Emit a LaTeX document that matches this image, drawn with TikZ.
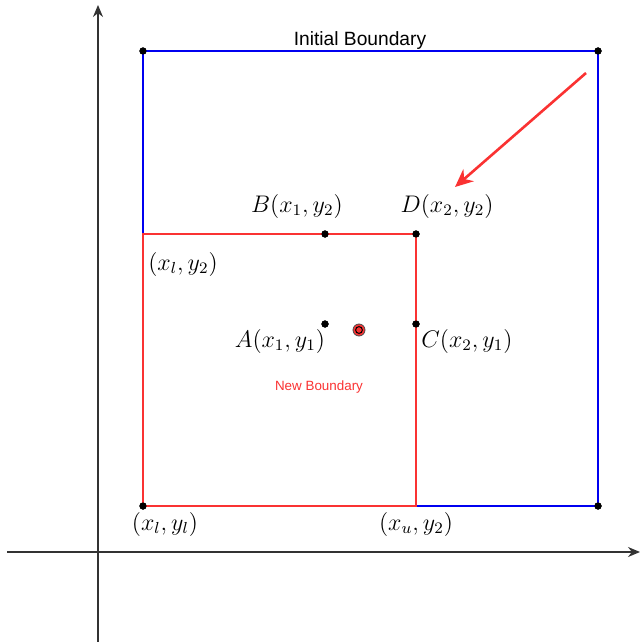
\documentclass[tikz,border=0pt]{standalone}
\usepackage{amsmath, amssymb}
\usepackage{fontspec}
\setsansfont{Liberation Sans}
\usetikzlibrary{arrows.meta}
\definecolor{boxblue}{RGB}{0,0,240}
\definecolor{boxred}{RGB}{250,50,50}
\newcommand{\gridpt}[2]{%
  \node[pt] (#1) at #2 {};%
}

\begin{document}
\begin{tikzpicture}[x=0.5pt,y=-0.5pt,
  pt/.style={circle,fill=black,inner sep=0pt,minimum size=3.6pt},
  lbl/.style={font=\large},
  axis/.style={black!80,line width=0.6pt,-{Stealth[length=6pt,width=5pt]}}]
  \useasboundingbox (0,0) rectangle (640,642);
  % axes
  \coordinate (xs) at (7,552); \coordinate (xe) at (640,552);
  \coordinate (ys) at (98,642); \coordinate (ye) at (98,5);
  \draw[axis] (xs)--(xe);
  \draw[axis] (ys)--(ye);
  % corners
  \gridpt{tl}{(143,51)} \gridpt{tr}{(598,51)}
  \gridpt{br}{(598,506)} \gridpt{bl}{(143,506)}
  \coordinate (ml) at (143,234);
  \gridpt{B}{(325,234)} \gridpt{D}{(416,234)}
  \gridpt{A}{(325,324)} \gridpt{C}{(416,324)}
  \coordinate (bm) at (416,506);
  % initial boundary
  \draw[boxblue,line width=1.3pt] (ml)--(tl.center)--(tr.center)--(br.center)--(bm);
  % new boundary
  \draw[boxred,line width=1.3pt] (bl.center)--(ml)--(D.center)--(bm)--cycle;
  \foreach \p in {tl,tr,br,bl,B,D,A,C} \fill (\p) circle(1.8pt);
  % optimum
  \node[circle,draw=black!70,fill=boxred,line width=0.4pt,inner sep=0pt,minimum size=6pt] (opt) at (359,330) {};
  \draw[black,fill=boxred,line width=0.5pt] (opt) circle(1.7pt);
  % labels
  \node[font=\sffamily\fontsize{9.6}{11}\selectfont] (ib) at (360,41) {Initial Boundary};
  \node[font=\sffamily\fontsize{6.7}{8}\selectfont,text=boxred] (nb) at (319,387) {New Boundary};
  \node[lbl] (lB) at (297,206) {$B(x_1,y_2)$};
  \node[lbl] (lD) at (447,206) {$D(x_2,y_2)$};
  \node[lbl] (lml) at (183,264) {$(x_l,y_2)$};
  \node[lbl] (lA) at (280,341) {$A(x_1,y_1)$};
  \node[lbl] (lC) at (467,341) {$C(x_2,y_1)$};
  \node[lbl] (lbl) at (165,524) {$(x_l,y_l)$};
  \node[lbl] (lbm) at (416,524) {$(x_u,y_2)$};
  % shrink arrow
  \coordinate (as) at (586,73); \coordinate (ae) at (455,187);
  \draw[boxred,line width=1.3pt,-{Stealth[length=9pt,width=8pt]}] (as)--(ae);
\end{tikzpicture}
\end{document}
